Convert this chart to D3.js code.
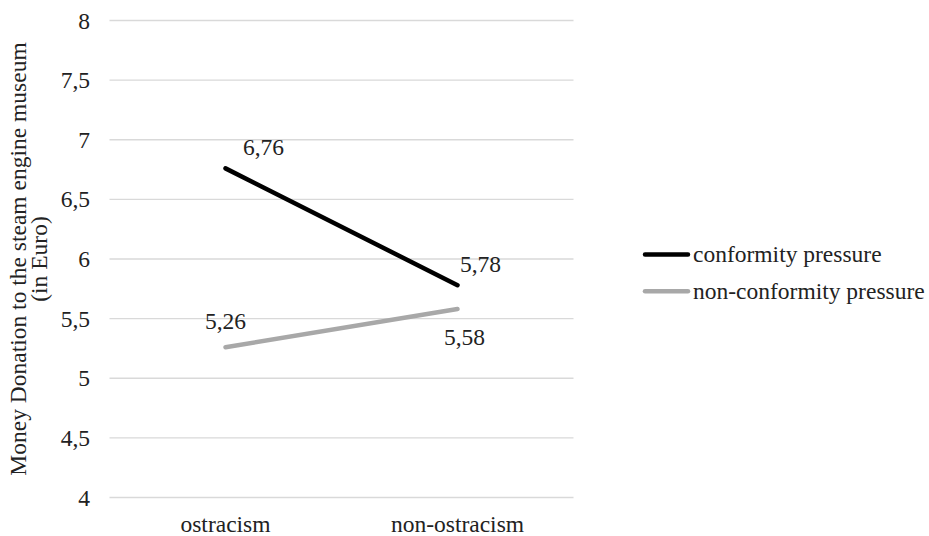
<!DOCTYPE html>
<html>
<head>
<meta charset="utf-8">
<script src="https://cdn.jsdelivr.net/npm/d3@7"></script>
<style>
  html, body { margin: 0; padding: 0; background: #fff; }
  svg text { font-family: "Liberation Serif", "Times New Roman", serif; fill: #222; }
</style>
</head>
<body>
<svg id="chart" width="929" height="536"></svg>
<script>
// Conditions on the x axis
const categories = ["ostracism", "non-ostracism"];
// Mean donations per condition
const seriesNames = ["conformity pressure", "non-conformity pressure"];
const conformityValues = [6.76, 5.78];
const nonConformityValues = [5.26, 5.58];
const yTicks = [4, 4.5, 5, 5.5, 6, 6.5, 7, 7.5, 8];
const yTitle = ["Money Donation to the steam engine museum", "(in Euro)"];

const series = [
  { name: seriesNames[0], values: conformityValues, color: "#000000" },
  { name: seriesNames[1], values: nonConformityValues, color: "#a8a8a8" }
];

const FONT = "Liberation Serif";
const FS = 23.5;
const fmt = v => String(v).replace(".", ",");

const svg = d3.select("#chart");
const plot = { left: 109.5, right: 573.5, top: 20.5, bottom: 497.5 };

const x = d3.scaleBand().domain(categories).range([plot.left, plot.right]).padding(0);
const xc = c => x(c) + x.bandwidth() / 2;
const y = d3.scaleLinear().domain([4, 8]).range([plot.bottom, plot.top]);

// horizontal gridlines
svg.append("g").selectAll("line").data(yTicks).join("line")
  .attr("x1", plot.left).attr("x2", plot.right)
  .attr("y1", d => y(d)).attr("y2", d => y(d))
  .attr("stroke", "#d9d9d9").attr("stroke-width", 1.3);

// y axis (labels only)
const yAxis = d3.axisLeft(y).tickValues(yTicks).tickFormat(fmt).tickSize(0).tickPadding(0);
const gy = svg.append("g").attr("transform", `translate(90,0)`).call(yAxis);
gy.select(".domain").remove();
gy.selectAll("text").attr("font-size", FS).attr("font-family", FONT).attr("fill", "#222");

// x axis (labels only)
const xAxis = d3.axisBottom(x).tickSize(0).tickPadding(0);
const gx = svg.append("g").attr("transform", `translate(0,${plot.bottom})`).call(xAxis);
gx.select(".domain").remove();
gx.selectAll("text").attr("font-size", FS).attr("font-family", FONT).attr("fill", "#222")
  .attr("dy", null).attr("y", 34);

// y axis title
const title = svg.append("text")
  .attr("transform", `translate(0,${(plot.top + plot.bottom) / 2}) rotate(-90)`)
  .attr("text-anchor", "middle").attr("font-size", FS);
title.selectAll("tspan").data(yTitle).join("tspan")
  .attr("x", 0).attr("y", (d, i) => 26 + i * 21).text(d => d);

// series lines
const line = d3.line().x((d, i) => xc(categories[i])).y(d => y(d));
svg.append("g").selectAll("path").data(series).join("path")
  .attr("d", s => line(s.values))
  .attr("fill", "none").attr("stroke", s => s.color)
  .attr("stroke-width", 4.5).attr("stroke-linecap", "round");

// value labels, offset from each point
const labelOffsets = [
  [[38, -13], [23, -13]],
  [[0, -18], [7, 36]]
];
series.forEach((s, si) => {
  svg.append("g").selectAll("text").data(s.values).join("text")
    .attr("x", (d, i) => xc(categories[i]) + labelOffsets[si][i][0])
    .attr("y", (d, i) => y(d) + labelOffsets[si][i][1])
    .attr("text-anchor", "middle").attr("font-size", FS)
    .text(d => fmt(d));
});

// legend
const lg = svg.append("g").selectAll("g").data(series).join("g")
  .attr("transform", (d, i) => `translate(645,${254.5 + i * 36.8})`);
lg.append("line").attr("x1", 0).attr("x2", 43).attr("y1", 0).attr("y2", 0)
  .attr("stroke", d => d.color).attr("stroke-width", 4.5).attr("stroke-linecap", "round");
lg.append("text").attr("x", 48).attr("y", 0).attr("dy", "0.32em")
  .attr("font-size", FS).text(d => d.name);
</script>
</body>
</html>
